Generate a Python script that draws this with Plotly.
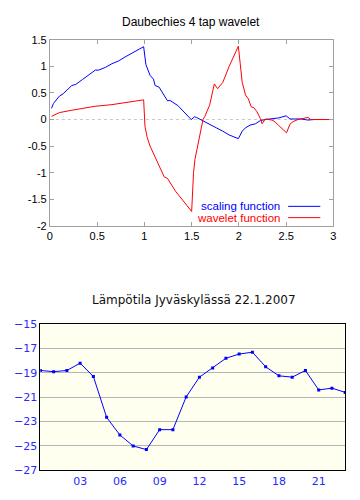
import plotly.graph_objects as go

# ---- Daubechies 4 tap wavelet ----
scaling_x = [0.017, 0.037, 0.10, 0.14, 0.232, 0.273, 0.343, 0.481, 0.516, 0.586, 0.656, 0.725, 0.794,
             0.992, 1.016, 1.06, 1.096, 1.113, 1.155, 1.245, 1.27, 1.356, 1.495, 1.53, 1.55, 1.62,
             1.69, 1.76, 1.83, 1.897, 1.994, 2.035, 2.07, 2.12, 2.175, 2.227, 2.28, 2.36, 2.42,
             2.50, 2.54, 2.66, 2.73, 2.8, 3.0]
scaling_y = [0.21, 0.30, 0.44, 0.485, 0.64, 0.66, 0.75, 0.93, 0.93, 0.98, 1.05, 1.10, 1.175,
             1.37, 1.035, 0.83, 0.76, 0.64, 0.61, 0.35, 0.36, 0.26, 0.0, 0.05, 0.04, -0.02,
             -0.08, -0.155, -0.22, -0.29, -0.36, -0.22, -0.155, -0.105, -0.08, -0.02, 0.0, 0.02, 0.03,
             0.07, 0.01, 0.01, -0.01, 0.0, 0.0]

wavelet_x = [0.017, 0.10, 0.232, 0.48, 0.656, 0.794, 0.992, 1.006, 1.03, 1.06, 1.10, 1.12, 1.21,
             1.245, 1.33, 1.50, 1.52, 1.535, 1.57, 1.61, 1.62, 1.64, 1.69, 1.74, 1.775, 1.83,
             1.897, 1.994, 2.018, 2.035, 2.07, 2.10, 2.13, 2.16, 2.19, 2.227, 2.245, 2.28, 2.35,
             2.38, 2.42, 2.47, 2.504, 2.54, 2.573, 2.625, 2.73, 2.76, 3.0]
wavelet_y = [0.06, 0.13, 0.175, 0.25, 0.28, 0.32, 0.37, -0.13, -0.34, -0.50, -0.65, -0.71, -1.08,
             -1.11, -1.35, -1.73, -1.0, -0.75, -0.45, -0.1, 0.0, 0.06, 0.27, 0.67, 0.58, 0.70,
             1.00, 1.38, 0.94, 0.70, 0.46, 0.39, 0.24, 0.22, 0.15, 0.02, -0.08, 0.01, -0.01,
             -0.04, -0.11, -0.19, -0.25, -0.09, -0.04, 0.0, 0.04, 0.0, 0.0]

top_xticks = [0, 0.5, 1, 1.5, 2, 2.5, 3]
top_yticks = [-2, -1.5, -1, -0.5, 0, 0.5, 1, 1.5]

# ---- Temperature ----
hours = list(range(24))
temps = [-18.8, -18.9, -18.8, -18.2, -19.3, -22.65, -24.1, -25.0, -25.3, -23.66, -23.66, -20.97,
         -19.35, -18.6, -17.8, -17.45, -17.3, -18.5, -19.24, -19.35, -18.8, -20.4, -20.25, -20.6]
hour_tickvals = [3, 6, 9, 12, 15, 18, 21]
hour_ticktext = ["03", "06", "09", "12", "15", "18", "21"]
temp_ticks = [-27, -25, -23, -21, -19, -17, -15]

W, H = 360, 500
fig = go.Figure()

fig.add_trace(go.Scatter(x=scaling_x, y=scaling_y, mode="lines", line=dict(color="#0000ff", width=1),
                         xaxis="x", yaxis="y", showlegend=False))
fig.add_trace(go.Scatter(x=wavelet_x, y=wavelet_y, mode="lines", line=dict(color="#ff0000", width=1),
                         xaxis="x", yaxis="y", showlegend=False))
fig.add_trace(go.Scatter(x=hours, y=temps, mode="lines+markers",
                         line=dict(color="#0000ff", width=1),
                         marker=dict(symbol="square", size=3, color="#0000ff"),
                         xaxis="x2", yaxis="y2", showlegend=False))

gray = "#a0a0a0"
top_font = dict(family="Liberation Sans, Arial, sans-serif", size=11, color="black")
bot_font = dict(family="DejaVu Sans, sans-serif", size=11, color="#2828ff")
leg_font = "Liberation Sans, Arial, sans-serif"

fig.update_layout(
    width=W, height=H,
    margin=dict(l=0, r=0, t=0, b=0),
    paper_bgcolor="white", plot_bgcolor="rgba(0,0,0,0)",
    xaxis=dict(domain=[47.7 / W, 336 / W], range=[0, 3], tickvals=top_xticks,
               ticktext=[f"{v:g}" for v in top_xticks],
               showgrid=False, zeroline=False, showline=True, linecolor=gray, linewidth=1,
               mirror="ticks", ticks="inside", ticklen=4, tickcolor=gray, tickfont=top_font, anchor="y"),
    yaxis=dict(domain=[1 - 225.7 / H, 1 - 34.7 / H], range=[-2, 1.5], tickvals=top_yticks,
               ticktext=[f"{v:g}" for v in top_yticks],
               showgrid=False, zeroline=False, showline=True, linecolor=gray, linewidth=1,
               mirror="ticks", ticks="inside", ticklen=4, tickcolor=gray, tickfont=top_font, anchor="x"),
    xaxis2=dict(domain=[38 / W, 348 / W], range=[0, 23], tickvals=hour_tickvals, ticktext=hour_ticktext,
                showgrid=False, zeroline=False, showline=True, linecolor="black", linewidth=1,
                mirror=True, ticks="", tickfont=bot_font, anchor="y2"),
    yaxis2=dict(domain=[1 - 476.7 / H, 1 - 326.7 / H], range=[-27, -15], tickvals=temp_ticks,
                showgrid=True, gridcolor="#b4b4b4", gridwidth=1, zeroline=False,
                showline=True, linecolor="black", linewidth=1, mirror=True, ticks="",
                tickfont=bot_font, anchor="x2"),
    shapes=[
        dict(type="rect", xref="x2 domain", yref="y2 domain", x0=0, x1=1, y0=0, y1=1,
             fillcolor="#fffff0", line=dict(width=0), layer="below"),
        dict(type="line", xref="x domain", yref="y", x0=0, x1=1, y0=0, y1=0,
             line=dict(color="#c8c8c8", width=1, dash="dot"), layer="below"),
        dict(type="line", xref="paper", yref="paper", x0=290 / W, x1=322.7 / W,
             y0=1 - 205.7 / H, y1=1 - 205.7 / H, line=dict(color="#0000ff", width=1)),
        dict(type="line", xref="paper", yref="paper", x0=290 / W, x1=322.7 / W,
             y0=1 - 217.3 / H, y1=1 - 217.3 / H, line=dict(color="#ff0000", width=1)),
    ],
    annotations=[
        dict(text="Daubechies 4 tap wavelet", xref="paper", yref="paper", x=191 / W, y=1 - 16 / H,
             showarrow=False, xanchor="center", yanchor="middle",
             font=dict(family="Liberation Sans, Arial, sans-serif", size=12, color="black")),
        dict(text="scaling function", xref="paper", yref="paper", x=282.5 / W, y=1 - 205.7 / H,
             showarrow=False, xanchor="right", yanchor="middle", borderpad=0,
             font=dict(family=leg_font, size=11.5, color="#0000ff")),
        dict(text="wavelet function", xref="paper", yref="paper", x=282.5 / W, y=1 - 217.3 / H,
             showarrow=False, xanchor="right", yanchor="middle", borderpad=0,
             font=dict(family=leg_font, size=11.5, color="#ff0000")),
        dict(text="Lämpötila Jyväskylässä 22.1.2007", xref="paper", yref="paper", x=194 / W, y=1 - 302 / H,
             showarrow=False, xanchor="center", yanchor="middle",
             font=dict(family="DejaVu Sans, sans-serif", size=12, color="#101010")),
    ],
)

fig.write_html("out.html", config={"displayModeBar": False},
               post_script="document.body.style.margin='0';document.body.style.overflow='hidden';")
